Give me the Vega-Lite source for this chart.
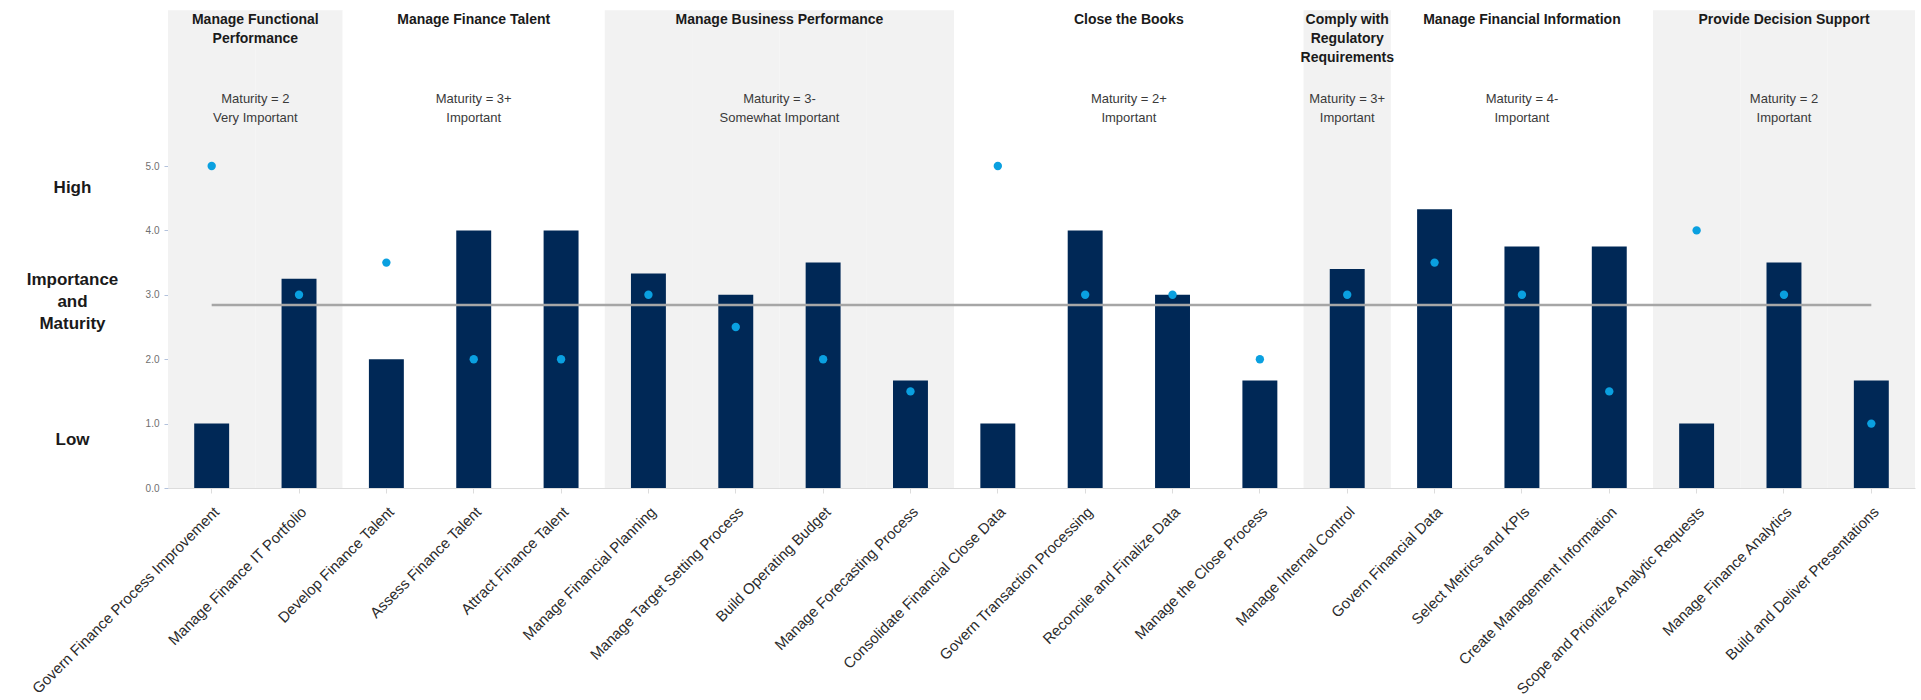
{
  "$schema": "https://vega.github.io/schema/vega-lite/v6.json",
  "autosize": {"type": "none"},
  "width": 1747,
  "height": 322,
  "padding": {"left": 168, "top": 166, "right": 6, "bottom": 212},
  "config": {"font": "Liberation Sans", "view": {"stroke": null}, "axis": {"grid": false}},
  "datasets": {
    "tasks": [
      {"task": "Govern Finance Process Improvement", "group": "Manage Functional Performance", "maturity": 1.0, "importance": 5.0},
      {"task": "Manage Finance IT Portfolio", "group": "Manage Functional Performance", "maturity": 3.25, "importance": 3.0},
      {"task": "Develop Finance Talent", "group": "Manage Finance Talent", "maturity": 2.0, "importance": 3.5},
      {"task": "Assess Finance Talent", "group": "Manage Finance Talent", "maturity": 4.0, "importance": 2.0},
      {"task": "Attract Finance Talent", "group": "Manage Finance Talent", "maturity": 4.0, "importance": 2.0},
      {"task": "Manage Financial Planning", "group": "Manage Business Performance", "maturity": 3.33, "importance": 3.0},
      {"task": "Manage Target Setting Process", "group": "Manage Business Performance", "maturity": 3.0, "importance": 2.5},
      {"task": "Build Operating Budget", "group": "Manage Business Performance", "maturity": 3.5, "importance": 2.0},
      {"task": "Manage Forecasting Process", "group": "Manage Business Performance", "maturity": 1.67, "importance": 1.5},
      {"task": "Consolidate Financial Close Data", "group": "Close the Books", "maturity": 1.0, "importance": 5.0},
      {"task": "Govern Transaction Processing", "group": "Close the Books", "maturity": 4.0, "importance": 3.0},
      {"task": "Reconcile and Finalize Data", "group": "Close the Books", "maturity": 3.0, "importance": 3.0},
      {"task": "Manage the Close Process", "group": "Close the Books", "maturity": 1.67, "importance": 2.0},
      {"task": "Manage Internal Control", "group": "Comply with Regulatory Requirements", "maturity": 3.4, "importance": 3.0},
      {"task": "Govern Financial Data", "group": "Manage Financial Information", "maturity": 4.33, "importance": 3.5},
      {"task": "Select Metrics and KPIs", "group": "Manage Financial Information", "maturity": 3.75, "importance": 3.0},
      {"task": "Create Management Information", "group": "Manage Financial Information", "maturity": 3.75, "importance": 1.5},
      {"task": "Scope and Prioritize Analytic Requests", "group": "Provide Decision Support", "maturity": 1.0, "importance": 4.0},
      {"task": "Manage Finance Analytics", "group": "Provide Decision Support", "maturity": 3.5, "importance": 3.0},
      {"task": "Build and Deliver Presentations", "group": "Provide Decision Support", "maturity": 1.67, "importance": 1.0}
    ],
    "groups": [
      {"group": "Manage Functional Performance", "title": "Manage Functional\nPerformance", "summary": "Maturity = 2\nVery Important", "anchor": "Manage Finance IT Portfolio", "n": 2},
      {"group": "Manage Finance Talent", "title": "Manage Finance Talent", "summary": "Maturity = 3+\nImportant", "anchor": "Assess Finance Talent", "n": 3},
      {"group": "Manage Business Performance", "title": "Manage Business Performance", "summary": "Maturity = 3-\nSomewhat Important", "anchor": "Build Operating Budget", "n": 4},
      {"group": "Close the Books", "title": "Close the Books", "summary": "Maturity = 2+\nImportant", "anchor": "Reconcile and Finalize Data", "n": 4},
      {"group": "Comply with Regulatory Requirements", "title": "Comply with\nRegulatory\nRequirements", "summary": "Maturity = 3+\nImportant", "anchor": "Manage Internal Control", "n": 1},
      {"group": "Manage Financial Information", "title": "Manage Financial Information", "summary": "Maturity = 4-\nImportant", "anchor": "Select Metrics and KPIs", "n": 3},
      {"group": "Provide Decision Support", "title": "Provide Decision Support", "summary": "Maturity = 2\nImportant", "anchor": "Manage Finance Analytics", "n": 3}
    ]
  },
  "resolve": {"scale": {"y": "independent"}, "axis": {"y": "independent"}},
  "layer": [
    {
      "layer": [
        {
          "data": {"name": "tasks"},
          "mark": {"type": "rect"},
          "encoding": {
            "x": {
              "field": "task", "type": "nominal", "title": null,
              "scale": {"domain": ["Govern Finance Process Improvement", "Manage Finance IT Portfolio", "Develop Finance Talent", "Assess Finance Talent", "Attract Finance Talent", "Manage Financial Planning", "Manage Target Setting Process", "Build Operating Budget", "Manage Forecasting Process", "Consolidate Financial Close Data", "Govern Transaction Processing", "Reconcile and Finalize Data", "Manage the Close Process", "Manage Internal Control", "Govern Financial Data", "Select Metrics and KPIs", "Create Management Information", "Scope and Prioritize Analytic Requests", "Manage Finance Analytics", "Build and Deliver Presentations"], "paddingInner": 0, "paddingOuter": 0},
              "axis": {"labelAngle": -45, "labelFontSize": 15, "labelColor": "#2b2b2b", "labelPadding": 11, "labelLimit": 0, "tickSize": 5, "tickColor": "#dcdcdc", "domainColor": "#dcdcdc", "labelOverlap": false, "title": null}
            },
            "y": {
              "datum": 0, "type": "quantitative", "title": null,
              "scale": {"domain": [0, 5], "nice": false, "zero": true},
              "axis": {"values": [0, 1, 2, 3, 4, 5], "format": ".1f", "labelFontSize": 10, "labelColor": "#6f6f6f", "labelPadding": 5, "tickSize": 4, "tickColor": "#b3c2dc", "domainColor": "#b3c2dc", "title": null}
            },
            "y2": {"datum": 7.42},
            "color": {
              "field": "group", "type": "nominal", "legend": null,
              "scale": {"domain": ["Manage Functional Performance", "Manage Finance Talent", "Manage Business Performance", "Close the Books", "Comply with Regulatory Requirements", "Manage Financial Information", "Provide Decision Support"], "range": ["#f2f2f2", "#ffffff", "#f2f2f2", "#ffffff", "#f2f2f2", "#ffffff", "#f2f2f2"]}
            }
          }
        },
        {
          "data": {"name": "tasks"},
          "mark": {"type": "bar", "color": "#002856", "width": {"band": 0.4}},
          "encoding": {
            "x": {"field": "task", "type": "nominal", "title": null},
            "y": {"field": "maturity", "type": "quantitative", "title": null}
          }
        },
        {
          "data": {"name": "tasks"},
          "mark": {"type": "point", "filled": true, "shape": "circle", "size": 70, "color": "#0aa0e0", "opacity": 1},
          "encoding": {
            "x": {"field": "task", "type": "nominal", "title": null},
            "y": {"field": "importance", "type": "quantitative", "title": null}
          }
        },
        {
          "data": {"name": "groups"},
          "transform": [{"filter": "datum.n % 2 == 0"}],
          "mark": {"type": "text", "align": "center", "baseline": "top", "fontWeight": "bold", "fontSize": 14, "lineBreak": "\n", "lineHeight": 19, "color": "#1a1a1a"},
          "encoding": {
            "x": {"field": "anchor", "type": "nominal", "bandPosition": 0, "title": null},
            "y": {"datum": 7.38},
            "text": {"field": "title"}
          }
        },
        {
          "data": {"name": "groups"},
          "transform": [{"filter": "datum.n % 2 == 1"}],
          "mark": {"type": "text", "align": "center", "baseline": "top", "fontWeight": "bold", "fontSize": 14, "lineBreak": "\n", "lineHeight": 19, "color": "#1a1a1a"},
          "encoding": {
            "x": {"field": "anchor", "type": "nominal", "bandPosition": 0.5, "title": null},
            "y": {"datum": 7.38},
            "text": {"field": "title"}
          }
        },
        {
          "data": {"name": "groups"},
          "transform": [{"filter": "datum.n % 2 == 0"}],
          "mark": {"type": "text", "align": "center", "baseline": "top", "fontSize": 13, "lineBreak": "\n", "lineHeight": 19, "color": "#3a3a3a"},
          "encoding": {
            "x": {"field": "anchor", "type": "nominal", "bandPosition": 0, "title": null},
            "y": {"datum": 6.13},
            "text": {"field": "summary"}
          }
        },
        {
          "data": {"name": "groups"},
          "transform": [{"filter": "datum.n % 2 == 1"}],
          "mark": {"type": "text", "align": "center", "baseline": "top", "fontSize": 13, "lineBreak": "\n", "lineHeight": 19, "color": "#3a3a3a"},
          "encoding": {
            "x": {"field": "anchor", "type": "nominal", "bandPosition": 0.5, "title": null},
            "y": {"datum": 6.13},
            "text": {"field": "summary"}
          }
        }
      ]
    },
    {
      "data": {"name": "tasks"},
      "mark": {"type": "rule", "color": "#a6a6a6", "strokeWidth": 2.5},
      "encoding": {
        "x": {"datum": "Govern Finance Process Improvement", "type": "nominal"},
        "x2": {"datum": "Build and Deliver Presentations"},
        "y": {
          "aggregate": "mean", "field": "maturity", "type": "quantitative", "title": null,
          "scale": {"domain": [0, 5], "nice": false, "zero": true},
          "axis": {
            "orient": "left", "values": [0.75, 3.23, 4.66],
            "labelExpr": "datum.value < 1 ? 'Low' : (datum.value > 4 ? 'High' : ['Importance', 'and', 'Maturity'])",
            "domain": false, "ticks": false, "tickSize": 0, "labelPadding": 96,
            "labelAlign": "center", "labelBaseline": "middle", "labelFontSize": 17, "labelFontWeight": "bold",
            "labelColor": "#1a1a1a", "labelLineHeight": 22, "labelOverlap": false, "title": null
          }
        }
      }
    }
  ]
}
